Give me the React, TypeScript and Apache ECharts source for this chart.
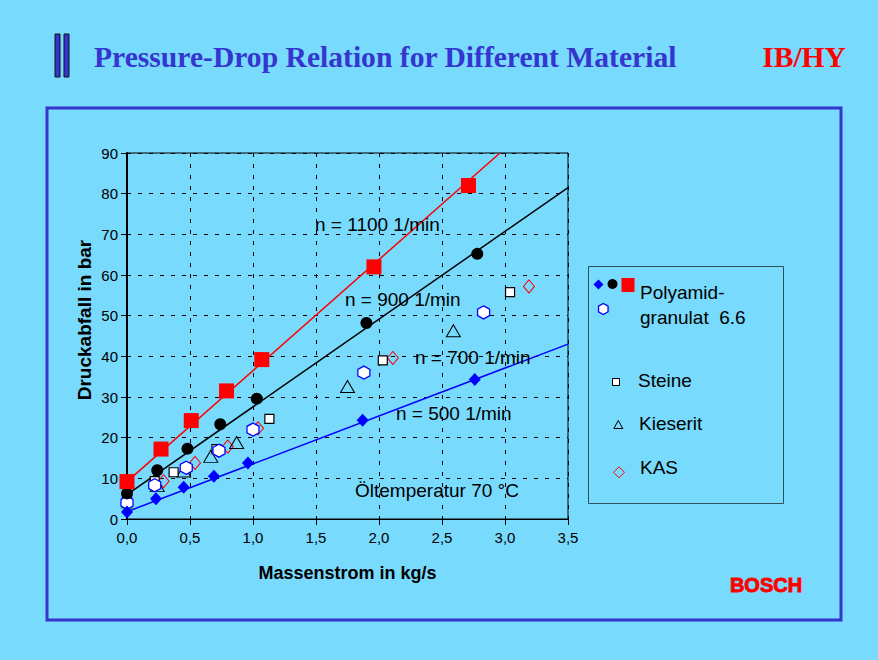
import React, { useEffect, useRef } from "react";
import * as echarts from "echarts";

// ---- data ----
const xTicks = [0, 0.5, 1, 1.5, 2, 2.5, 3, 3.5];
const yTicks = [0, 10, 20, 30, 40, 50, 60, 70, 80, 90];

const poly1100: number[][] = [[0, 9.2], [0.27, 17.2], [0.51, 24.2], [0.79, 31.5], [1.07, 39.2], [1.96, 62], [2.71, 82]];
const poly900: number[][] = [[0, 6.3], [0.24, 12], [0.48, 17.3], [0.74, 23.3], [1.03, 29.6], [1.9, 48.2], [2.78, 65.2]];
const poly700: number[][] = [[0, 4], [0.22, 8.3], [0.47, 12.6], [0.73, 16.8], [1.0, 22], [1.88, 36], [2.83, 50.8]];
const poly500: number[][] = [[0, 1.7], [0.23, 5], [0.45, 7.8], [0.69, 10.5], [0.96, 13.8], [1.87, 24.3], [2.76, 34.3]];
const steine: number[][] = [[0, 4.5], [0.22, 9.3], [0.37, 11.5], [0.71, 17.2], [1.13, 24.6], [2.03, 39], [3.04, 55.8]];
const kieserit: number[][] = [[0.24, 8.2], [0.45, 11.8], [0.665, 15.4], [0.87, 18.8], [1.75, 32.6], [2.59, 46.3]];
const kieseritZero: number[][] = [[0, 3.8]];
const kas: number[][] = [[0, 3.8], [0.29, 9.3], [0.54, 13.8], [0.8, 17.8], [1.04, 22.3], [2.11, 39.6], [3.19, 57.2]];

const fit1100: number[][] = [[0, 9.2], [2.96, 90]];
const fit900: number[][] = [[0, 6], [3.5, 81.5]];
const fit500: number[][] = [[0, 1.8], [3.5, 43]];

const titleText = "Pressure-Drop Relation for Different Material";
const deptText = "IB/HY";
const xName = "Massenstrom in kg/s";
const yName = "Druckabfall in bar";
const notes = ["n = 1100 1/min", "n = 900 1/min", "n = 700 1/min", "n = 500 1/min", "Öltemperatur 70 °C"];
const legendLabels = ["Polyamid-", "granulat  6.6", "Steine", "Kieserit", "KAS"];

const BG = "#78DAFD";
const HEX = "path://M5,0 L9.33,2.5 L9.33,7.5 L5,10 L0.67,7.5 L0.67,2.5 Z";

export default function App() {
  const ref = useRef<HTMLDivElement>(null);
  useEffect(() => {
    if (!ref.current) return;
    const chart = echarts.init(ref.current, null, { renderer: "svg" });
    const sans = "Liberation Sans, Arial, sans-serif";
    const serif = "Liberation Serif, Times New Roman, serif";

    const fitSeries = (data: number[][], color: string) => ({
      type: "line",
      data,
      symbol: "none",
      lineStyle: { color, width: 1.5 },
      z: 1,
      silent: true,
    });

    const noteStyle = { fill: "#000", font: `19px ${sans}` };

    const diamond = (cx: number, cy: number, r: number) => [[cx, cy - r], [cx + r, cy], [cx, cy + r], [cx - r, cy]];
    const triangle = (cx: number, cy: number, r: number) => [[cx, cy - r], [cx + r * 0.9, cy + r * 0.6], [cx - r * 0.9, cy + r * 0.6]];
    const hexagon = (cx: number, cy: number, r: number) => {
      const pts: number[][] = [];
      for (let i = 0; i < 6; i++) {
        const a = Math.PI / 6 + (i * Math.PI) / 3;
        pts.push([cx + r * Math.cos(a), cy + r * Math.sin(a)]);
      }
      return pts;
    };

    chart.setOption({
      animation: false,
      backgroundColor: BG,
      grid: { left: 127, top: 153, width: 441, height: 366, show: true, borderColor: "#000", borderWidth: 1, backgroundColor: "transparent" },
      xAxis: {
        type: "value",
        min: xTicks[0],
        max: xTicks[xTicks.length - 1],
        interval: 0.5,
        name: xName,
        nameLocation: "middle",
        nameGap: 45,
        nameTextStyle: { fontFamily: sans, fontSize: 18, fontWeight: "bold", color: "#000" },
        axisLine: { lineStyle: { color: "#000", width: 1 } },
        axisTick: { show: true, inside: false, length: 6, lineStyle: { color: "#000" } },
        axisLabel: { fontFamily: sans, fontSize: 15, color: "#000", margin: 11, formatter: (v: number) => v.toFixed(1).replace(".", ",") },
        splitLine: { show: true, lineStyle: { color: "#000", type: [4, 7], width: 1 } },
      },
      yAxis: {
        type: "value",
        min: yTicks[0],
        max: yTicks[yTicks.length - 1],
        interval: 10,
        axisLine: { show: true, lineStyle: { color: "#000", width: 2 } },
        axisTick: { show: true, inside: false, length: 6, lineStyle: { color: "#000" } },
        axisLabel: { fontFamily: sans, fontSize: 15, color: "#000", margin: 9 },
        splitLine: { show: true, lineStyle: { color: "#000", type: [4, 7], width: 1 } },
      },
      series: [
        fitSeries(fit1100, "#FF0000"),
        fitSeries(fit900, "#000000"),
        fitSeries(fit500, "#0000FF"),
        { name: "KAS", type: "scatter", data: kas, symbol: "diamond", symbolSize: [11, 13], itemStyle: { color: "transparent", borderColor: "#FF0000", borderWidth: 1, opacity: 1 }, z: 3 },
        { name: "Kieserit", type: "scatter", data: kieserit, symbol: "triangle", symbolSize: [14, 12], itemStyle: { color: "transparent", borderColor: "#000", borderWidth: 1, opacity: 1 }, z: 3 },
        { name: "Kieserit0", type: "scatter", data: kieseritZero, symbol: "triangle", symbolSize: [10, 9], itemStyle: { color: "#fff", borderColor: "#00C000", borderWidth: 1.5, opacity: 1 }, z: 3 },
        { name: "Steine", type: "scatter", data: steine, symbol: "rect", symbolSize: 9, itemStyle: { color: "#fff", borderColor: "#000", borderWidth: 1.2, opacity: 1 }, z: 4 },
        { name: "Polyamid 700", type: "scatter", data: poly700, symbol: HEX, symbolSize: [12, 13], itemStyle: { color: "#fff", borderColor: "#0000FF", borderWidth: 1.3, opacity: 1 }, z: 4 },
        { name: "Polyamid 500", type: "scatter", data: poly500, symbol: "diamond", symbolSize: [12, 13], itemStyle: { color: "#0000FF", opacity: 1 }, z: 5 },
        { name: "Polyamid 900", type: "scatter", data: poly900, symbol: "circle", symbolSize: 12, itemStyle: { color: "#000", opacity: 1 }, z: 5 },
        { name: "Polyamid 1100", type: "scatter", data: poly1100, symbol: "rect", symbolSize: 15, itemStyle: { color: "#FF0000", opacity: 1 }, z: 6 },
      ],
      graphic: [
        // outer frame
        { type: "rect", shape: { x: 47, y: 108, width: 794, height: 512 }, style: { fill: "transparent", stroke: "#3535CF", lineWidth: 3 }, z: 0, silent: true },
        // title bars
        { type: "rect", shape: { x: 55, y: 34, width: 5, height: 43 }, style: { fill: "#3535CF", stroke: "#111", lineWidth: 1 } },
        { type: "rect", shape: { x: 64, y: 34, width: 5, height: 43 }, style: { fill: "#3535CF", stroke: "#111", lineWidth: 1 } },
        { type: "text", x: 94, y: 57, style: { text: titleText, fill: "#3535CF", font: `bold 29.6px ${serif}`, textAlign: "left", textVerticalAlign: "middle" } },
        { type: "text", x: 846, y: 57, style: { text: deptText, fill: "#FF0000", font: `bold 29.6px ${serif}`, textAlign: "right", textVerticalAlign: "middle" } },
        { type: "text", x: 766, y: 585, style: { text: "BOSCH", fill: "#FF0000", stroke: "#FF0000", lineWidth: 0.9, font: `bold 20px ${sans}`, textAlign: "center", textVerticalAlign: "middle" } },
        // axis title (y)
        { type: "text", x: 84, y: 320, rotation: Math.PI / 2, style: { text: yName, fill: "#000", font: `bold 19px ${sans}`, textAlign: "center", textVerticalAlign: "middle" } },
        // annotations
        { type: "text", x: 315, y: 224, style: { ...noteStyle, text: notes[0], textVerticalAlign: "middle" }, z: 10 },
        { type: "text", x: 345, y: 299, style: { ...noteStyle, text: notes[1], textVerticalAlign: "middle" }, z: 10 },
        { type: "text", x: 415, y: 357, style: { ...noteStyle, text: notes[2], textVerticalAlign: "middle" }, z: 10 },
        { type: "text", x: 396, y: 413, style: { ...noteStyle, text: notes[3], textVerticalAlign: "middle" }, z: 10 },
        { type: "text", x: 355, y: 490, style: { ...noteStyle, text: notes[4], textVerticalAlign: "middle" }, z: 10 },
        // legend box
        { type: "rect", shape: { x: 588.5, y: 266.5, width: 195, height: 237 }, style: { fill: "transparent", stroke: "#2F4F5F", lineWidth: 1 } },
        { type: "polygon", shape: { points: diamond(598.5, 284.5, 5) }, style: { fill: "#0000FF" } },
        { type: "circle", shape: { cx: 612.5, cy: 284, r: 5 }, style: { fill: "#000" } },
        { type: "rect", shape: { x: 621.5, y: 278, width: 13, height: 14 }, style: { fill: "#FF0000" } },
        { type: "polygon", shape: { points: hexagon(603.3, 309, 5.5) }, style: { fill: "#fff", stroke: "#0000FF", lineWidth: 1.3 } },
        { type: "text", x: 640, y: 292, style: { text: legendLabels[0], fill: "#000", font: `19px ${sans}`, textVerticalAlign: "middle" } },
        { type: "text", x: 640, y: 317, style: { text: legendLabels[1], fill: "#000", font: `19px ${sans}`, textVerticalAlign: "middle" } },
        { type: "rect", shape: { x: 612.5, y: 378.5, width: 7, height: 7 }, style: { fill: "#fff", stroke: "#000", lineWidth: 1 } },
        { type: "text", x: 638, y: 380, style: { text: legendLabels[2], fill: "#000", font: `19px ${sans}`, textVerticalAlign: "middle" } },
        { type: "polygon", shape: { points: triangle(618.3, 425.5, 5) }, style: { fill: "transparent", stroke: "#000", lineWidth: 1 } },
        { type: "text", x: 639, y: 423, style: { text: legendLabels[3], fill: "#000", font: `19px ${sans}`, textVerticalAlign: "middle" } },
        { type: "polygon", shape: { points: diamond(619, 472.3, 5.5) }, style: { fill: "transparent", stroke: "#FF0000", lineWidth: 1 } },
        { type: "text", x: 640, y: 467, style: { text: legendLabels[4], fill: "#000", font: `19px ${sans}`, textVerticalAlign: "middle" } },
      ],
    });
    return () => chart.dispose();
  }, []);

  return <div ref={ref} style={{ position: "fixed", left: 0, top: 0, width: 878, height: 660 }} />;
}
